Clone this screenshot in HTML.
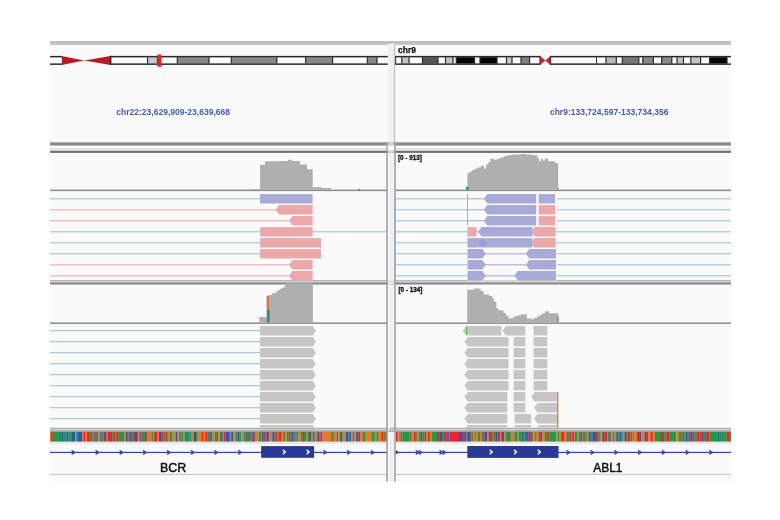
<!DOCTYPE html>
<html><head><meta charset="utf-8"><style>
html,body{margin:0;padding:0;background:#fff;width:780px;height:520px;overflow:hidden}
svg{display:block;will-change:transform}
</style></head><body>
<svg width="780" height="520" viewBox="0 0 780 520" shape-rendering="geometricPrecision">
<rect x="0.00" y="0.00" width="780.00" height="520.00" fill="#ffffff" />
<rect x="50.00" y="41.00" width="681.00" height="441.00" fill="#fafafa" />
<rect x="388.00" y="45.00" width="6.00" height="437.00" fill="#f0f1f0" />
<rect x="50.00" y="41.00" width="681.00" height="2.80" fill="#c0c0c0" />
<rect x="50.00" y="43.70" width="338.00" height="0.90" fill="#a9a9a9" />
<rect x="395.00" y="43.70" width="336.00" height="0.90" fill="#a9a9a9" />
<rect x="50.00" y="57.20" width="12.00" height="6.40" fill="#ffffff" />
<rect x="110.40" y="57.20" width="277.40" height="6.40" fill="#ffffff" />
<rect x="147.50" y="57.20" width="10.00" height="6.40" fill="#c8c8c8" />
<rect x="146.90" y="57.20" width="1.20" height="6.40" fill="#2a2a2a" />
<rect x="156.90" y="57.20" width="1.20" height="6.40" fill="#2a2a2a" />
<rect x="177.30" y="57.20" width="31.70" height="6.40" fill="#888888" />
<rect x="176.70" y="57.20" width="1.20" height="6.40" fill="#2a2a2a" />
<rect x="208.40" y="57.20" width="1.20" height="6.40" fill="#2a2a2a" />
<rect x="231.30" y="57.20" width="45.50" height="6.40" fill="#888888" />
<rect x="230.70" y="57.20" width="1.20" height="6.40" fill="#2a2a2a" />
<rect x="276.20" y="57.20" width="1.20" height="6.40" fill="#2a2a2a" />
<rect x="305.70" y="57.20" width="26.90" height="6.40" fill="#888888" />
<rect x="305.10" y="57.20" width="1.20" height="6.40" fill="#2a2a2a" />
<rect x="332.00" y="57.20" width="1.20" height="6.40" fill="#2a2a2a" />
<rect x="367.30" y="57.20" width="9.70" height="6.40" fill="#888888" />
<rect x="366.70" y="57.20" width="1.20" height="6.40" fill="#2a2a2a" />
<rect x="376.40" y="57.20" width="1.20" height="6.40" fill="#2a2a2a" />
<rect x="50.00" y="55.90" width="12.00" height="1.50" fill="#2a2a2a" />
<rect x="50.00" y="63.40" width="12.00" height="1.50" fill="#2a2a2a" />
<rect x="110.40" y="55.90" width="277.40" height="1.50" fill="#2a2a2a" />
<rect x="110.40" y="63.40" width="277.40" height="1.50" fill="#2a2a2a" />
<rect x="110.00" y="55.90" width="1.30" height="9.00" fill="#2a2a2a" />
<polygon points="61.8,55.900000000000006 84,60.4 110.6,55.900000000000006 110.6,64.9 84,60.4 61.8,64.9" fill="#b81c22"/>
<rect x="109.80" y="55.90" width="1.30" height="9.00" fill="#2a2a2a" />
<rect x="157.40" y="54.50" width="3.80" height="12.20" fill="#ee1c24" />
<rect x="395.30" y="57.20" width="145.00" height="6.40" fill="#ffffff" />
<rect x="550.20" y="57.20" width="180.80" height="6.40" fill="#ffffff" />
<rect x="401.80" y="57.20" width="7.20" height="6.40" fill="#c4c4c4" />
<rect x="401.20" y="57.20" width="1.20" height="6.40" fill="#2a2a2a" />
<rect x="408.40" y="57.20" width="1.20" height="6.40" fill="#2a2a2a" />
<rect x="422.50" y="57.20" width="15.50" height="6.40" fill="#555555" />
<rect x="421.90" y="57.20" width="1.20" height="6.40" fill="#2a2a2a" />
<rect x="437.40" y="57.20" width="1.20" height="6.40" fill="#2a2a2a" />
<rect x="445.50" y="57.20" width="7.50" height="6.40" fill="#c4c4c4" />
<rect x="444.90" y="57.20" width="1.20" height="6.40" fill="#2a2a2a" />
<rect x="452.40" y="57.20" width="1.20" height="6.40" fill="#2a2a2a" />
<rect x="456.30" y="57.20" width="18.20" height="6.40" fill="#000000" />
<rect x="455.70" y="57.20" width="1.20" height="6.40" fill="#2a2a2a" />
<rect x="473.90" y="57.20" width="1.20" height="6.40" fill="#2a2a2a" />
<rect x="480.00" y="57.20" width="17.00" height="6.40" fill="#000000" />
<rect x="479.40" y="57.20" width="1.20" height="6.40" fill="#2a2a2a" />
<rect x="496.40" y="57.20" width="1.20" height="6.40" fill="#2a2a2a" />
<rect x="506.50" y="57.20" width="5.50" height="6.40" fill="#c8c8c8" />
<rect x="505.90" y="57.20" width="1.20" height="6.40" fill="#2a2a2a" />
<rect x="511.40" y="57.20" width="1.20" height="6.40" fill="#2a2a2a" />
<rect x="521.00" y="57.20" width="8.60" height="6.40" fill="#808080" />
<rect x="520.40" y="57.20" width="1.20" height="6.40" fill="#2a2a2a" />
<rect x="529.00" y="57.20" width="1.20" height="6.40" fill="#2a2a2a" />
<rect x="606.00" y="57.20" width="10.30" height="6.40" fill="#b8b8b8" />
<rect x="605.40" y="57.20" width="1.20" height="6.40" fill="#2a2a2a" />
<rect x="615.70" y="57.20" width="1.20" height="6.40" fill="#2a2a2a" />
<rect x="622.30" y="57.20" width="16.50" height="6.40" fill="#777777" />
<rect x="621.70" y="57.20" width="1.20" height="6.40" fill="#2a2a2a" />
<rect x="638.20" y="57.20" width="1.20" height="6.40" fill="#2a2a2a" />
<rect x="642.80" y="57.20" width="10.60" height="6.40" fill="#888888" />
<rect x="642.20" y="57.20" width="1.20" height="6.40" fill="#2a2a2a" />
<rect x="652.80" y="57.20" width="1.20" height="6.40" fill="#2a2a2a" />
<rect x="661.60" y="57.20" width="10.20" height="6.40" fill="#888888" />
<rect x="661.00" y="57.20" width="1.20" height="6.40" fill="#2a2a2a" />
<rect x="671.20" y="57.20" width="1.20" height="6.40" fill="#2a2a2a" />
<rect x="677.00" y="57.20" width="6.50" height="6.40" fill="#c0c0c0" />
<rect x="676.40" y="57.20" width="1.20" height="6.40" fill="#2a2a2a" />
<rect x="682.90" y="57.20" width="1.20" height="6.40" fill="#2a2a2a" />
<rect x="690.80" y="57.20" width="9.80" height="6.40" fill="#c4c4c4" />
<rect x="690.20" y="57.20" width="1.20" height="6.40" fill="#2a2a2a" />
<rect x="700.00" y="57.20" width="1.20" height="6.40" fill="#2a2a2a" />
<rect x="709.60" y="57.20" width="17.40" height="6.40" fill="#000000" />
<rect x="709.00" y="57.20" width="1.20" height="6.40" fill="#2a2a2a" />
<rect x="726.40" y="57.20" width="1.20" height="6.40" fill="#2a2a2a" />
<rect x="395.30" y="55.90" width="145.00" height="1.50" fill="#2a2a2a" />
<rect x="395.30" y="63.40" width="145.00" height="1.50" fill="#2a2a2a" />
<rect x="394.90" y="55.90" width="1.30" height="9.00" fill="#2a2a2a" />
<rect x="539.40" y="55.90" width="1.30" height="9.00" fill="#2a2a2a" />
<rect x="550.20" y="55.90" width="180.80" height="1.50" fill="#2a2a2a" />
<rect x="550.20" y="63.40" width="180.80" height="1.50" fill="#2a2a2a" />
<rect x="549.80" y="55.90" width="1.30" height="9.00" fill="#2a2a2a" />
<rect x="596.00" y="57.20" width="1.00" height="6.40" fill="#2a2a2a" />
<polygon points="540,55.900000000000006 545.4,60.4 550.5,55.900000000000006 550.5,64.9 545.4,60.4 540,64.9" fill="#c0282c"/>
<text x="398" y="53.4" font-family="Liberation Sans" font-weight="bold" font-size="8.6" fill="#111" stroke="#111" stroke-width="0.25" textLength="18" lengthAdjust="spacingAndGlyphs">chr9</text>
<text x="116.3" y="115" font-family="Liberation Sans" font-size="9.8" font-weight="bold" fill="#4a5aaa" textLength="113.7" lengthAdjust="spacingAndGlyphs">chr22:23,629,909-23,639,668</text>
<text x="549.9" y="114.8" font-family="Liberation Sans" font-size="9.8" font-weight="bold" fill="#4a5aaa" textLength="118.5" lengthAdjust="spacingAndGlyphs">chr9:133,724,597-133,734,356</text>
<rect x="50.00" y="142.30" width="681.00" height="3.30" fill="#8c8c8c" />
<rect x="50.00" y="148.00" width="681.00" height="1.60" fill="#dddddd" />
<rect x="50.00" y="150.70" width="681.00" height="2.20" fill="#707070" />
<rect x="50.00" y="280.20" width="681.00" height="1.20" fill="#a8a8a8" />
<rect x="50.00" y="281.40" width="681.00" height="1.10" fill="#c8c8c8" />
<rect x="50.00" y="282.50" width="681.00" height="2.00" fill="#858585" />
<rect x="50.00" y="189.60" width="337.00" height="1.50" fill="#8a8a8a" />
<rect x="395.00" y="189.60" width="336.00" height="1.50" fill="#8a8a8a" />
<rect x="50.00" y="322.40" width="337.00" height="1.50" fill="#8a8a8a" />
<rect x="395.00" y="322.40" width="336.00" height="1.50" fill="#8a8a8a" />
<polygon points="250.60,189.80 250.60,189.10 260.10,189.10 260.10,164.70 265.00,164.70 265.00,161.30 281.00,161.30 281.00,160.90 288.00,160.90 288.00,159.80 292.00,159.80 292.00,160.90 300.00,160.90 300.00,164.40 307.00,164.40 307.00,169.20 312.70,169.20 312.70,187.20 322.00,187.20 322.00,188.10 331.00,188.10 331.00,189.80" fill="#afafaf"/>
<rect x="358.30" y="188.80" width="1.60" height="1.60" fill="#1a9a4a" />
<polygon points="467.40,189.80 467.40,173.00 469.80,173.00 469.80,171.40 472.30,171.40 472.30,170.00 474.70,170.00 474.70,168.70 477.10,168.70 477.10,167.60 480.80,167.60 480.80,165.80 484.00,165.80 484.00,168.60 486.00,168.60 486.00,164.50 488.40,164.50 488.40,162.10 490.40,162.10 490.40,158.70 494.00,158.70 494.00,159.70 497.30,159.70 497.30,158.50 500.50,158.50 500.50,157.40 503.80,157.40 503.80,156.30 507.00,156.30 507.00,155.30 511.80,155.30 511.80,154.40 520.50,154.40 520.50,154.00 526.00,154.00 526.00,154.40 532.60,154.40 532.60,155.30 537.50,155.30 537.50,158.00 539.00,158.00 539.00,160.90 541.00,160.90 541.00,158.70 543.00,158.70 543.00,160.50 544.70,160.50 544.70,158.50 548.00,158.50 548.00,161.30 555.20,161.30 555.20,162.90 558.20,162.90 558.20,189.80" fill="#afafaf"/>
<rect x="466.00" y="186.80" width="2.40" height="3.00" fill="#14a050" />
<rect x="557.00" y="188.20" width="2.00" height="1.60" fill="#e08a3a" />
<text x="398" y="160.3" font-family="Liberation Sans" font-weight="bold" font-size="6.3" fill="#111" stroke="#111" stroke-width="0.3">[0 - 913]</text>
<text x="398.5" y="292.0" font-family="Liberation Sans" font-weight="bold" font-size="6.3" fill="#111" stroke="#111" stroke-width="0.3">[0 - 134]</text>
<polygon points="259.20,322.60 259.20,317.00 266.40,317.00 266.40,296.00 268.50,296.00 268.50,295.00 272.00,295.00 272.00,293.20 276.00,293.20 276.00,291.50 278.00,291.50 278.00,290.00 280.00,290.00 280.00,288.80 282.00,288.80 282.00,287.40 285.00,287.40 285.00,283.30 312.90,283.30 312.90,322.60" fill="#afafaf"/>
<rect x="267.10" y="296.00" width="1.90" height="14.00" fill="#e07a2a" />
<rect x="267.10" y="310.00" width="1.90" height="12.50" fill="#1fa050" />
<rect x="268.60" y="309.50" width="0.80" height="13.00" fill="#3a56c0" />
<polygon points="467.20,322.60 467.20,289.80 473.80,289.80 473.80,288.60 480.60,288.60 480.60,290.90 483.60,290.90 483.60,294.50 489.10,294.50 489.10,296.00 492.00,296.00 492.00,297.70 493.70,297.70 493.70,301.50 496.30,301.50 496.30,308.20 498.40,308.20 498.40,310.30 503.50,310.30 503.50,312.90 506.00,312.90 506.00,315.80 508.50,315.80 508.50,318.30 513.40,318.30 513.40,316.50 516.80,316.50 516.80,315.40 521.00,315.40 521.00,314.30 526.90,314.30 526.90,318.50 532.00,318.50 532.00,319.60 533.70,319.60 533.70,318.00 537.10,318.00 537.10,316.30 539.60,316.30 539.60,315.00 542.10,315.00 542.10,313.30 545.10,313.30 545.10,311.20 548.90,311.20 548.90,313.30 558.40,313.30 558.40,322.60" fill="#afafaf"/>
<rect x="557.00" y="316.30" width="1.60" height="6.30" fill="#e07a2a" />
<rect x="396.00" y="198.27" width="335.00" height="1.05" fill="#9cc0d4" />
<rect x="396.00" y="209.27" width="335.00" height="1.05" fill="#9cc0d4" />
<rect x="396.00" y="220.27" width="335.00" height="1.05" fill="#9cc0d4" />
<rect x="396.00" y="231.27" width="335.00" height="1.05" fill="#9cc0d4" />
<rect x="396.00" y="242.27" width="335.00" height="1.05" fill="#9cc0d4" />
<rect x="396.00" y="253.27" width="335.00" height="1.05" fill="#9cc0d4" />
<rect x="396.00" y="264.28" width="335.00" height="1.05" fill="#9cc0d4" />
<rect x="396.00" y="275.28" width="335.00" height="1.05" fill="#9cc0d4" />
<rect x="50.00" y="198.27" width="212.00" height="1.05" fill="#9cc0d4" />
<rect x="50.00" y="209.27" width="227.00" height="1.05" fill="#eeaaaa" />
<rect x="50.00" y="220.27" width="240.00" height="1.05" fill="#eeaaaa" />
<rect x="50.00" y="231.27" width="212.00" height="1.05" fill="#9cc0d4" />
<rect x="50.00" y="242.27" width="212.00" height="1.05" fill="#9cc0d4" />
<rect x="50.00" y="253.27" width="212.00" height="1.05" fill="#9cc0d4" />
<rect x="50.00" y="264.28" width="240.00" height="1.05" fill="#eeaaaa" />
<rect x="50.00" y="275.28" width="240.00" height="1.05" fill="#eeaaaa" />
<rect x="312.00" y="231.27" width="75.00" height="1.05" fill="#9cc0d4" />
<rect x="260.10" y="194.10" width="52.50" height="9.40" fill="#aaaad8" />
<polygon points="275.60,209.80 279.10,205.10 312.60,205.10 312.60,214.50 279.10,214.50" fill="#eca8a8"/>
<polygon points="289.00,220.80 292.50,216.10 312.60,216.10 312.60,225.50 292.50,225.50" fill="#eca8a8"/>
<rect x="260.10" y="227.10" width="52.50" height="9.40" fill="#eca8a8" />
<rect x="260.10" y="238.10" width="60.90" height="9.40" fill="#eca8a8" />
<rect x="260.10" y="249.10" width="60.90" height="9.40" fill="#eca8a8" />
<polygon points="289.00,264.80 292.50,260.10 312.60,260.10 312.60,269.50 292.50,269.50" fill="#eca8a8"/>
<polygon points="289.00,275.80 292.50,271.10 312.60,271.10 312.60,280.50 292.50,280.50" fill="#eca8a8"/>
<rect x="467.00" y="194.10" width="90.00" height="9.40" fill="#fafafa" />
<rect x="467.00" y="198.27" width="19.00" height="1.05" fill="#a8a8d8" />
<rect x="467.00" y="205.10" width="90.00" height="9.40" fill="#fafafa" />
<rect x="467.00" y="209.27" width="19.00" height="1.05" fill="#a8a8d8" />
<rect x="467.00" y="216.10" width="90.00" height="9.40" fill="#fafafa" />
<rect x="467.00" y="220.27" width="19.00" height="1.05" fill="#a8a8d8" />
<rect x="467.00" y="194.10" width="1.00" height="31.40" fill="#a8a8d8" />
<polygon points="483.80,198.80 487.30,194.10 536.20,194.10 536.20,203.50 487.30,203.50" fill="#aaaad8"/>
<rect x="538.70" y="194.10" width="16.30" height="9.40" fill="#aaaad8" />
<polygon points="483.80,209.80 487.30,205.10 536.20,205.10 536.20,214.50 487.30,214.50" fill="#aaaad8"/>
<rect x="538.70" y="205.10" width="16.30" height="9.40" fill="#eca8a8" />
<polygon points="483.80,220.80 487.30,216.10 536.20,216.10 536.20,225.50 487.30,225.50" fill="#aaaad8"/>
<rect x="538.70" y="216.10" width="16.30" height="9.40" fill="#eca8a8" />
<rect x="467.50" y="227.10" width="9.00" height="9.40" fill="#eca8a8" />
<polygon points="478.00,231.80 481.50,227.10 532.50,227.10 532.50,236.50 481.50,236.50" fill="#aaaad8"/>
<polygon points="531.00,231.80 534.50,227.10 555.50,227.10 555.50,236.50 534.50,236.50" fill="#eca8a8"/>
<rect x="467.50" y="238.10" width="65.00" height="9.40" fill="#aaaad8" />
<polygon points="478,242.80 482.5,238.10 487,242.80 482.5,247.50" fill="#9c9cd0"/>
<polygon points="531.00,242.80 534.50,238.10 555.50,238.10 555.50,247.50 534.50,247.50" fill="#eca8a8"/>
<rect x="467.00" y="249.10" width="90.00" height="9.40" fill="#fafafa" />
<polygon points="467.50,249.10 482.30,249.10 485.80,253.80 482.30,258.50 467.50,258.50" fill="#aaaad8"/>
<rect x="485.00" y="253.27" width="42.80" height="1.05" fill="#a8a8d8" />
<polygon points="525.80,253.80 529.30,249.10 556.00,249.10 556.00,258.50 529.30,258.50" fill="#aaaad8"/>
<rect x="467.00" y="260.10" width="90.00" height="9.40" fill="#fafafa" />
<polygon points="467.50,260.10 482.30,260.10 485.80,264.80 482.30,269.50 467.50,269.50" fill="#aaaad8"/>
<rect x="485.00" y="264.28" width="42.80" height="1.05" fill="#a8a8d8" />
<polygon points="525.80,264.80 529.30,260.10 556.00,260.10 556.00,269.50 529.30,269.50" fill="#aaaad8"/>
<rect x="467.00" y="271.10" width="90.00" height="9.40" fill="#fafafa" />
<polygon points="467.50,271.10 482.30,271.10 485.80,275.80 482.30,280.50 467.50,280.50" fill="#aaaad8"/>
<rect x="485.00" y="275.28" width="31.20" height="1.05" fill="#a8a8d8" />
<polygon points="514.20,275.80 517.70,271.10 556.00,271.10 556.00,280.50 517.70,280.50" fill="#aaaad8"/>
<rect x="50.00" y="330.18" width="212.00" height="1.05" fill="#9cc0d4" />
<rect x="50.00" y="341.18" width="212.00" height="1.05" fill="#9cc0d4" />
<rect x="50.00" y="352.18" width="212.00" height="1.05" fill="#9cc0d4" />
<rect x="50.00" y="363.18" width="212.00" height="1.05" fill="#9cc0d4" />
<rect x="50.00" y="374.18" width="212.00" height="1.05" fill="#9cc0d4" />
<rect x="50.00" y="385.18" width="212.00" height="1.05" fill="#9cc0d4" />
<rect x="50.00" y="396.18" width="212.00" height="1.05" fill="#9cc0d4" />
<rect x="50.00" y="407.18" width="212.00" height="1.05" fill="#9cc0d4" />
<rect x="50.00" y="418.18" width="212.00" height="1.05" fill="#9cc0d4" />
<polygon points="259.90,326.00 312.80,326.00 315.80,330.70 312.80,335.40 259.90,335.40" fill="#c6c6c5"/>
<polygon points="259.90,337.00 312.80,337.00 315.80,341.70 312.80,346.40 259.90,346.40" fill="#c6c6c5"/>
<polygon points="259.90,348.00 312.80,348.00 315.80,352.70 312.80,357.40 259.90,357.40" fill="#c6c6c5"/>
<polygon points="259.90,359.00 312.80,359.00 315.80,363.70 312.80,368.40 259.90,368.40" fill="#c6c6c5"/>
<polygon points="259.90,370.00 312.80,370.00 315.80,374.70 312.80,379.40 259.90,379.40" fill="#c6c6c5"/>
<polygon points="259.90,381.00 312.80,381.00 315.80,385.70 312.80,390.40 259.90,390.40" fill="#c6c6c5"/>
<polygon points="259.90,392.00 312.80,392.00 315.80,396.70 312.80,401.40 259.90,401.40" fill="#c6c6c5"/>
<polygon points="259.90,403.00 312.80,403.00 315.80,407.70 312.80,412.40 259.90,412.40" fill="#c6c6c5"/>
<polygon points="259.90,414.00 312.80,414.00 315.80,418.70 312.80,423.40 259.90,423.40" fill="#c6c6c5"/>
<polygon points="259.90,425.00 312.80,425.00 315.80,429.70 312.80,434.40 259.90,434.40" fill="#c6c6c5"/>
<polygon points="462.70,330.70 466.20,326.00 501.40,326.00 501.40,335.40 466.20,335.40" fill="#c6c6c5"/>
<rect x="466.20" y="326.50" width="1.00" height="8.40" fill="#4cb84c" />
<polygon points="502.50,330.70 506.00,326.00 525.30,326.00 525.30,335.40 506.00,335.40" fill="#c6c6c5"/>
<rect x="533.50" y="326.00" width="13.90" height="9.40" fill="#c6c6c5" />
<polygon points="464.30,341.70 467.80,337.00 508.50,337.00 508.50,346.40 467.80,346.40" fill="#c6c6c5"/>
<rect x="513.60" y="337.00" width="11.70" height="9.40" fill="#c6c6c5" />
<rect x="533.50" y="337.00" width="13.90" height="9.40" fill="#c6c6c5" />
<polygon points="464.30,352.70 467.80,348.00 508.50,348.00 508.50,357.40 467.80,357.40" fill="#c6c6c5"/>
<rect x="513.60" y="348.00" width="11.70" height="9.40" fill="#c6c6c5" />
<rect x="533.50" y="348.00" width="13.90" height="9.40" fill="#c6c6c5" />
<polygon points="464.30,363.70 467.80,359.00 508.50,359.00 508.50,368.40 467.80,368.40" fill="#c6c6c5"/>
<rect x="513.60" y="359.00" width="11.70" height="9.40" fill="#c6c6c5" />
<rect x="533.50" y="359.00" width="13.90" height="9.40" fill="#c6c6c5" />
<polygon points="464.30,374.70 467.80,370.00 508.50,370.00 508.50,379.40 467.80,379.40" fill="#c6c6c5"/>
<rect x="513.60" y="370.00" width="11.70" height="9.40" fill="#c6c6c5" />
<rect x="533.50" y="370.00" width="13.90" height="9.40" fill="#c6c6c5" />
<polygon points="464.30,385.70 467.80,381.00 508.50,381.00 508.50,390.40 467.80,390.40" fill="#c6c6c5"/>
<rect x="513.60" y="381.00" width="11.70" height="9.40" fill="#c6c6c5" />
<rect x="533.50" y="381.00" width="13.90" height="9.40" fill="#c6c6c5" />
<polygon points="464.30,396.70 467.80,392.00 507.40,392.00 507.40,401.40 467.80,401.40" fill="#c6c6c5"/>
<rect x="513.60" y="392.00" width="11.70" height="9.40" fill="#c6c6c5" />
<polygon points="531.20,396.70 534.70,392.00 557.80,392.00 557.80,401.40 534.70,401.40" fill="#c6c6c5"/>
<rect x="557.00" y="392.00" width="1.40" height="10.80" fill="#e08040" />
<polygon points="464.30,407.70 467.80,403.00 507.40,403.00 507.40,412.40 467.80,412.40" fill="#c6c6c5"/>
<rect x="513.60" y="403.00" width="11.70" height="9.40" fill="#c6c6c5" />
<polygon points="534.00,407.70 537.50,403.00 557.80,403.00 557.80,412.40 537.50,412.40" fill="#c6c6c5"/>
<rect x="557.00" y="403.00" width="1.40" height="10.80" fill="#e08040" />
<polygon points="464.30,418.70 467.80,414.00 507.40,414.00 507.40,423.40 467.80,423.40" fill="#c6c6c5"/>
<rect x="514.70" y="414.00" width="16.50" height="9.40" fill="#c6c6c5" />
<polygon points="534.00,418.70 537.50,414.00 557.80,414.00 557.80,423.40 537.50,423.40" fill="#c6c6c5"/>
<rect x="557.00" y="414.00" width="1.40" height="10.80" fill="#e08040" />
<polygon points="464.30,429.70 467.80,425.00 507.40,425.00 507.40,434.40 467.80,434.40" fill="#c6c6c5"/>
<rect x="514.70" y="425.00" width="16.50" height="9.40" fill="#c6c6c5" />
<polygon points="535.50,429.70 539.00,425.00 557.80,425.00 557.80,434.40 539.00,434.40" fill="#c6c6c5"/>
<rect x="557.00" y="425.00" width="1.40" height="10.80" fill="#e08040" />
<rect x="50.00" y="427.60" width="681.00" height="1.00" fill="#fafafa" />
<rect x="50.00" y="427.80" width="681.00" height="1.30" fill="#adadad" />
<rect x="50.00" y="429.10" width="681.00" height="1.20" fill="#d2d2d2" />
<rect x="50.00" y="430.30" width="681.00" height="1.60" fill="#9a9a9a" />
<rect x="50.00" y="432.00" width="1.24" height="9.60" fill="#e07c28" />
<rect x="51.09" y="432.00" width="1.78" height="9.60" fill="#ec2226" />
<rect x="52.72" y="432.00" width="6.14" height="9.60" fill="#1c9c48" />
<rect x="58.72" y="432.00" width="1.24" height="9.60" fill="#3352b6" />
<rect x="59.81" y="432.00" width="2.33" height="9.60" fill="#1c9c48" />
<rect x="61.99" y="432.00" width="1.24" height="9.60" fill="#3352b6" />
<rect x="63.08" y="432.00" width="3.42" height="9.60" fill="#1c9c48" />
<rect x="66.35" y="432.00" width="2.11" height="9.60" fill="#3352b6" />
<rect x="68.31" y="432.00" width="3.09" height="9.60" fill="#1c9c48" />
<rect x="71.25" y="432.00" width="3.96" height="9.60" fill="#3352b6" />
<rect x="75.06" y="432.00" width="1.24" height="9.60" fill="#e07c28" />
<rect x="76.15" y="432.00" width="1.24" height="9.60" fill="#1c9c48" />
<rect x="77.24" y="432.00" width="5.05" height="9.60" fill="#3352b6" />
<rect x="82.15" y="432.00" width="1.24" height="9.60" fill="#e07c28" />
<rect x="83.24" y="432.00" width="2.33" height="9.60" fill="#ec2226" />
<rect x="85.42" y="432.00" width="1.78" height="9.60" fill="#e07c28" />
<rect x="87.05" y="432.00" width="2.87" height="9.60" fill="#ec2226" />
<rect x="89.78" y="432.00" width="2.87" height="9.60" fill="#1c9c48" />
<rect x="92.50" y="432.00" width="1.24" height="9.60" fill="#ec2226" />
<rect x="93.59" y="432.00" width="1.24" height="9.60" fill="#7c4c8a" />
<rect x="94.68" y="432.00" width="2.33" height="9.60" fill="#8c6a3c" />
<rect x="96.86" y="432.00" width="1.78" height="9.60" fill="#2a8a78" />
<rect x="98.49" y="432.00" width="1.78" height="9.60" fill="#e07c28" />
<rect x="100.13" y="432.00" width="1.24" height="9.60" fill="#3352b6" />
<rect x="101.22" y="432.00" width="2.33" height="9.60" fill="#1c9c48" />
<rect x="103.40" y="432.00" width="1.78" height="9.60" fill="#ec2226" />
<rect x="105.03" y="432.00" width="1.78" height="9.60" fill="#3352b6" />
<rect x="106.67" y="432.00" width="1.24" height="9.60" fill="#e07c28" />
<rect x="107.76" y="432.00" width="4.51" height="9.60" fill="#ec2226" />
<rect x="112.12" y="432.00" width="1.78" height="9.60" fill="#1c9c48" />
<rect x="113.75" y="432.00" width="1.78" height="9.60" fill="#ec2226" />
<rect x="115.38" y="432.00" width="1.78" height="9.60" fill="#8c6a3c" />
<rect x="117.02" y="432.00" width="1.78" height="9.60" fill="#ec2226" />
<rect x="118.65" y="432.00" width="5.60" height="9.60" fill="#1c9c48" />
<rect x="124.10" y="432.00" width="1.78" height="9.60" fill="#e07c28" />
<rect x="125.74" y="432.00" width="1.24" height="9.60" fill="#3352b6" />
<rect x="126.83" y="432.00" width="1.78" height="9.60" fill="#1c9c48" />
<rect x="128.46" y="432.00" width="1.78" height="9.60" fill="#ec2226" />
<rect x="130.10" y="432.00" width="1.78" height="9.60" fill="#3352b6" />
<rect x="131.73" y="432.00" width="2.33" height="9.60" fill="#1c9c48" />
<rect x="133.91" y="432.00" width="1.24" height="9.60" fill="#ec2226" />
<rect x="135.00" y="432.00" width="2.87" height="9.60" fill="#3352b6" />
<rect x="137.72" y="432.00" width="1.78" height="9.60" fill="#e07c28" />
<rect x="139.36" y="432.00" width="2.33" height="9.60" fill="#7c4c8a" />
<rect x="141.54" y="432.00" width="3.42" height="9.60" fill="#1c9c48" />
<rect x="144.81" y="432.00" width="2.33" height="9.60" fill="#ec2226" />
<rect x="146.99" y="432.00" width="1.78" height="9.60" fill="#e07c28" />
<rect x="148.62" y="432.00" width="1.24" height="9.60" fill="#1c9c48" />
<rect x="149.71" y="432.00" width="1.78" height="9.60" fill="#e07c28" />
<rect x="151.35" y="432.00" width="1.78" height="9.60" fill="#1c9c48" />
<rect x="152.98" y="432.00" width="1.24" height="9.60" fill="#e07c28" />
<rect x="154.07" y="432.00" width="3.42" height="9.60" fill="#ec2226" />
<rect x="157.34" y="432.00" width="1.78" height="9.60" fill="#e07c28" />
<rect x="158.97" y="432.00" width="2.33" height="9.60" fill="#3352b6" />
<rect x="161.15" y="432.00" width="2.33" height="9.60" fill="#ec2226" />
<rect x="163.33" y="432.00" width="2.33" height="9.60" fill="#1c9c48" />
<rect x="165.51" y="432.00" width="2.33" height="9.60" fill="#ec2226" />
<rect x="167.69" y="432.00" width="2.33" height="9.60" fill="#e07c28" />
<rect x="169.87" y="432.00" width="2.87" height="9.60" fill="#1c9c48" />
<rect x="172.60" y="432.00" width="3.42" height="9.60" fill="#e07c28" />
<rect x="175.87" y="432.00" width="1.78" height="9.60" fill="#3352b6" />
<rect x="177.50" y="432.00" width="1.24" height="9.60" fill="#e07c28" />
<rect x="178.59" y="432.00" width="1.24" height="9.60" fill="#1c9c48" />
<rect x="179.68" y="432.00" width="1.78" height="9.60" fill="#8c6a3c" />
<rect x="181.31" y="432.00" width="1.78" height="9.60" fill="#1c9c48" />
<rect x="182.95" y="432.00" width="1.78" height="9.60" fill="#e07c28" />
<rect x="184.58" y="432.00" width="5.05" height="9.60" fill="#2a8a78" />
<rect x="189.49" y="432.00" width="2.33" height="9.60" fill="#1c9c48" />
<rect x="191.67" y="432.00" width="2.33" height="9.60" fill="#e07c28" />
<rect x="193.85" y="432.00" width="2.33" height="9.60" fill="#3352b6" />
<rect x="196.03" y="432.00" width="1.78" height="9.60" fill="#1c9c48" />
<rect x="197.66" y="432.00" width="3.96" height="9.60" fill="#e07c28" />
<rect x="201.47" y="432.00" width="2.33" height="9.60" fill="#ec2226" />
<rect x="203.65" y="432.00" width="1.78" height="9.60" fill="#e07c28" />
<rect x="205.29" y="432.00" width="2.33" height="9.60" fill="#ec2226" />
<rect x="207.47" y="432.00" width="2.87" height="9.60" fill="#1c9c48" />
<rect x="210.19" y="432.00" width="1.78" height="9.60" fill="#3352b6" />
<rect x="211.83" y="432.00" width="2.87" height="9.60" fill="#e07c28" />
<rect x="214.55" y="432.00" width="2.33" height="9.60" fill="#1c9c48" />
<rect x="216.73" y="432.00" width="1.78" height="9.60" fill="#ec2226" />
<rect x="218.37" y="432.00" width="1.78" height="9.60" fill="#e07c28" />
<rect x="220.00" y="432.00" width="1.24" height="9.60" fill="#1c9c48" />
<rect x="221.09" y="432.00" width="1.78" height="9.60" fill="#3352b6" />
<rect x="222.72" y="432.00" width="1.24" height="9.60" fill="#e07c28" />
<rect x="223.81" y="432.00" width="1.78" height="9.60" fill="#ec2226" />
<rect x="225.45" y="432.00" width="3.96" height="9.60" fill="#3352b6" />
<rect x="229.26" y="432.00" width="1.24" height="9.60" fill="#ec2226" />
<rect x="230.35" y="432.00" width="1.78" height="9.60" fill="#1c9c48" />
<rect x="231.99" y="432.00" width="1.24" height="9.60" fill="#3352b6" />
<rect x="233.08" y="432.00" width="2.33" height="9.60" fill="#e07c28" />
<rect x="235.26" y="432.00" width="2.33" height="9.60" fill="#1c9c48" />
<rect x="237.44" y="432.00" width="1.78" height="9.60" fill="#3352b6" />
<rect x="239.07" y="432.00" width="2.33" height="9.60" fill="#1c9c48" />
<rect x="241.25" y="432.00" width="2.87" height="9.60" fill="#e07c28" />
<rect x="243.97" y="432.00" width="1.78" height="9.60" fill="#1c9c48" />
<rect x="245.61" y="432.00" width="2.33" height="9.60" fill="#7c4c8a" />
<rect x="247.79" y="432.00" width="1.24" height="9.60" fill="#1c9c48" />
<rect x="248.88" y="432.00" width="1.78" height="9.60" fill="#ec2226" />
<rect x="250.51" y="432.00" width="1.78" height="9.60" fill="#1c9c48" />
<rect x="252.15" y="432.00" width="2.87" height="9.60" fill="#7c4c8a" />
<rect x="254.87" y="432.00" width="3.96" height="9.60" fill="#e07c28" />
<rect x="258.69" y="432.00" width="2.33" height="9.60" fill="#1c9c48" />
<rect x="260.87" y="432.00" width="1.24" height="9.60" fill="#e07c28" />
<rect x="261.96" y="432.00" width="1.78" height="9.60" fill="#3352b6" />
<rect x="263.59" y="432.00" width="1.78" height="9.60" fill="#ec2226" />
<rect x="265.22" y="432.00" width="1.24" height="9.60" fill="#1c9c48" />
<rect x="266.31" y="432.00" width="1.78" height="9.60" fill="#3352b6" />
<rect x="267.95" y="432.00" width="1.24" height="9.60" fill="#7c4c8a" />
<rect x="269.04" y="432.00" width="3.42" height="9.60" fill="#e07c28" />
<rect x="272.31" y="432.00" width="2.33" height="9.60" fill="#3352b6" />
<rect x="274.49" y="432.00" width="1.78" height="9.60" fill="#1c9c48" />
<rect x="276.12" y="432.00" width="1.78" height="9.60" fill="#ec2226" />
<rect x="277.76" y="432.00" width="1.24" height="9.60" fill="#e07c28" />
<rect x="278.85" y="432.00" width="2.87" height="9.60" fill="#ec2226" />
<rect x="281.57" y="432.00" width="1.78" height="9.60" fill="#e07c28" />
<rect x="283.21" y="432.00" width="2.33" height="9.60" fill="#1c9c48" />
<rect x="285.38" y="432.00" width="1.78" height="9.60" fill="#e07c28" />
<rect x="287.02" y="432.00" width="1.78" height="9.60" fill="#1c9c48" />
<rect x="288.65" y="432.00" width="1.78" height="9.60" fill="#ec2226" />
<rect x="290.29" y="432.00" width="1.78" height="9.60" fill="#1c9c48" />
<rect x="291.92" y="432.00" width="1.78" height="9.60" fill="#3352b6" />
<rect x="293.56" y="432.00" width="1.78" height="9.60" fill="#8c6a3c" />
<rect x="295.19" y="432.00" width="1.24" height="9.60" fill="#1c9c48" />
<rect x="296.28" y="432.00" width="2.33" height="9.60" fill="#2a8a78" />
<rect x="298.46" y="432.00" width="2.33" height="9.60" fill="#e07c28" />
<rect x="300.64" y="432.00" width="1.78" height="9.60" fill="#1c9c48" />
<rect x="302.28" y="432.00" width="1.78" height="9.60" fill="#ec2226" />
<rect x="303.91" y="432.00" width="1.24" height="9.60" fill="#1c9c48" />
<rect x="305.00" y="432.00" width="1.78" height="9.60" fill="#1c9c48" />
<rect x="306.63" y="432.00" width="1.24" height="9.60" fill="#e07c28" />
<rect x="307.72" y="432.00" width="1.24" height="9.60" fill="#1c9c48" />
<rect x="308.81" y="432.00" width="1.24" height="9.60" fill="#ec2226" />
<rect x="309.90" y="432.00" width="1.24" height="9.60" fill="#3352b6" />
<rect x="310.99" y="432.00" width="1.78" height="9.60" fill="#e07c28" />
<rect x="312.63" y="432.00" width="1.24" height="9.60" fill="#ec2226" />
<rect x="313.72" y="432.00" width="1.78" height="9.60" fill="#1c9c48" />
<rect x="315.35" y="432.00" width="1.24" height="9.60" fill="#e07c28" />
<rect x="316.44" y="432.00" width="1.24" height="9.60" fill="#ec2226" />
<rect x="317.53" y="432.00" width="1.78" height="9.60" fill="#3352b6" />
<rect x="319.17" y="432.00" width="1.24" height="9.60" fill="#1c9c48" />
<rect x="320.26" y="432.00" width="2.33" height="9.60" fill="#ec2226" />
<rect x="322.44" y="432.00" width="8.87" height="9.60" fill="#e07c28" />
<rect x="331.15" y="432.00" width="1.24" height="9.60" fill="#ec2226" />
<rect x="332.24" y="432.00" width="1.78" height="9.60" fill="#1c9c48" />
<rect x="333.88" y="432.00" width="2.87" height="9.60" fill="#e07c28" />
<rect x="336.60" y="432.00" width="1.78" height="9.60" fill="#7c4c8a" />
<rect x="338.24" y="432.00" width="1.78" height="9.60" fill="#e07c28" />
<rect x="339.87" y="432.00" width="1.24" height="9.60" fill="#1c9c48" />
<rect x="340.96" y="432.00" width="1.78" height="9.60" fill="#3352b6" />
<rect x="342.60" y="432.00" width="3.42" height="9.60" fill="#e07c28" />
<rect x="345.87" y="432.00" width="2.87" height="9.60" fill="#3352b6" />
<rect x="348.59" y="432.00" width="1.24" height="9.60" fill="#1c9c48" />
<rect x="349.68" y="432.00" width="1.78" height="9.60" fill="#3352b6" />
<rect x="351.31" y="432.00" width="1.78" height="9.60" fill="#e07c28" />
<rect x="352.95" y="432.00" width="1.78" height="9.60" fill="#1c9c48" />
<rect x="354.58" y="432.00" width="1.78" height="9.60" fill="#e07c28" />
<rect x="356.22" y="432.00" width="2.33" height="9.60" fill="#3352b6" />
<rect x="358.40" y="432.00" width="1.78" height="9.60" fill="#ec2226" />
<rect x="360.03" y="432.00" width="2.87" height="9.60" fill="#e07c28" />
<rect x="362.76" y="432.00" width="2.33" height="9.60" fill="#1c9c48" />
<rect x="364.94" y="432.00" width="6.69" height="9.60" fill="#e07c28" />
<rect x="371.47" y="432.00" width="3.42" height="9.60" fill="#1c9c48" />
<rect x="374.74" y="432.00" width="1.78" height="9.60" fill="#e07c28" />
<rect x="376.38" y="432.00" width="1.78" height="9.60" fill="#1c9c48" />
<rect x="378.01" y="432.00" width="3.42" height="9.60" fill="#e07c28" />
<rect x="381.28" y="432.00" width="2.33" height="9.60" fill="#ec2226" />
<rect x="383.46" y="432.00" width="3.64" height="9.60" fill="#6a8a3a" />
<rect x="395.87" y="432.00" width="1.46" height="9.60" fill="#ec2226" />
<rect x="397.18" y="432.00" width="1.24" height="9.60" fill="#1c9c48" />
<rect x="398.27" y="432.00" width="1.24" height="9.60" fill="#e07c28" />
<rect x="399.36" y="432.00" width="1.24" height="9.60" fill="#1c9c48" />
<rect x="400.45" y="432.00" width="2.33" height="9.60" fill="#8c6a3c" />
<rect x="402.63" y="432.00" width="6.69" height="9.60" fill="#1c9c48" />
<rect x="409.17" y="432.00" width="2.33" height="9.60" fill="#8c6a3c" />
<rect x="411.35" y="432.00" width="1.24" height="9.60" fill="#ec2226" />
<rect x="412.44" y="432.00" width="1.78" height="9.60" fill="#e07c28" />
<rect x="414.07" y="432.00" width="1.78" height="9.60" fill="#ec2226" />
<rect x="415.71" y="432.00" width="1.24" height="9.60" fill="#1c9c48" />
<rect x="416.79" y="432.00" width="2.33" height="9.60" fill="#e07c28" />
<rect x="418.97" y="432.00" width="1.78" height="9.60" fill="#1c9c48" />
<rect x="420.61" y="432.00" width="1.78" height="9.60" fill="#3352b6" />
<rect x="422.24" y="432.00" width="2.33" height="9.60" fill="#1c9c48" />
<rect x="424.42" y="432.00" width="1.78" height="9.60" fill="#ec2226" />
<rect x="426.06" y="432.00" width="1.78" height="9.60" fill="#e07c28" />
<rect x="427.69" y="432.00" width="1.24" height="9.60" fill="#ec2226" />
<rect x="428.78" y="432.00" width="1.24" height="9.60" fill="#1c9c48" />
<rect x="429.87" y="432.00" width="1.78" height="9.60" fill="#e07c28" />
<rect x="431.51" y="432.00" width="5.60" height="9.60" fill="#1c9c48" />
<rect x="436.96" y="432.00" width="2.87" height="9.60" fill="#ec2226" />
<rect x="439.68" y="432.00" width="2.33" height="9.60" fill="#3352b6" />
<rect x="441.86" y="432.00" width="2.33" height="9.60" fill="#1c9c48" />
<rect x="444.04" y="432.00" width="2.33" height="9.60" fill="#ec2226" />
<rect x="446.22" y="432.00" width="3.42" height="9.60" fill="#7c4c8a" />
<rect x="449.49" y="432.00" width="9.41" height="9.60" fill="#ec2226" />
<rect x="458.75" y="432.00" width="3.42" height="9.60" fill="#3352b6" />
<rect x="462.02" y="432.00" width="2.33" height="9.60" fill="#ec2226" />
<rect x="464.20" y="432.00" width="2.33" height="9.60" fill="#3352b6" />
<rect x="466.38" y="432.00" width="1.78" height="9.60" fill="#1c9c48" />
<rect x="468.01" y="432.00" width="2.33" height="9.60" fill="#3352b6" />
<rect x="470.19" y="432.00" width="1.24" height="9.60" fill="#ec2226" />
<rect x="471.28" y="432.00" width="1.78" height="9.60" fill="#1c9c48" />
<rect x="472.92" y="432.00" width="2.33" height="9.60" fill="#e07c28" />
<rect x="475.10" y="432.00" width="1.24" height="9.60" fill="#1c9c48" />
<rect x="476.19" y="432.00" width="1.78" height="9.60" fill="#e07c28" />
<rect x="477.82" y="432.00" width="2.33" height="9.60" fill="#1c9c48" />
<rect x="480.00" y="432.00" width="1.78" height="9.60" fill="#e07c28" />
<rect x="481.63" y="432.00" width="1.24" height="9.60" fill="#ec2226" />
<rect x="482.72" y="432.00" width="1.78" height="9.60" fill="#1c9c48" />
<rect x="484.36" y="432.00" width="2.87" height="9.60" fill="#3352b6" />
<rect x="487.08" y="432.00" width="1.78" height="9.60" fill="#e07c28" />
<rect x="488.72" y="432.00" width="2.33" height="9.60" fill="#ec2226" />
<rect x="490.90" y="432.00" width="1.24" height="9.60" fill="#1c9c48" />
<rect x="491.99" y="432.00" width="1.78" height="9.60" fill="#8c6a3c" />
<rect x="493.62" y="432.00" width="1.78" height="9.60" fill="#1c9c48" />
<rect x="495.26" y="432.00" width="2.33" height="9.60" fill="#3352b6" />
<rect x="497.44" y="432.00" width="2.87" height="9.60" fill="#ec2226" />
<rect x="500.16" y="432.00" width="1.24" height="9.60" fill="#e07c28" />
<rect x="501.25" y="432.00" width="2.87" height="9.60" fill="#3352b6" />
<rect x="503.97" y="432.00" width="1.78" height="9.60" fill="#e07c28" />
<rect x="505.61" y="432.00" width="3.42" height="9.60" fill="#1c9c48" />
<rect x="508.88" y="432.00" width="1.78" height="9.60" fill="#ec2226" />
<rect x="510.51" y="432.00" width="1.24" height="9.60" fill="#1c9c48" />
<rect x="511.60" y="432.00" width="2.87" height="9.60" fill="#e07c28" />
<rect x="514.33" y="432.00" width="2.87" height="9.60" fill="#1c9c48" />
<rect x="517.05" y="432.00" width="1.78" height="9.60" fill="#e07c28" />
<rect x="518.69" y="432.00" width="2.87" height="9.60" fill="#1c9c48" />
<rect x="521.41" y="432.00" width="2.33" height="9.60" fill="#3352b6" />
<rect x="523.59" y="432.00" width="1.78" height="9.60" fill="#1c9c48" />
<rect x="525.22" y="432.00" width="1.78" height="9.60" fill="#3352b6" />
<rect x="526.86" y="432.00" width="1.78" height="9.60" fill="#ec2226" />
<rect x="528.49" y="432.00" width="1.78" height="9.60" fill="#3352b6" />
<rect x="530.13" y="432.00" width="1.78" height="9.60" fill="#ec2226" />
<rect x="531.76" y="432.00" width="1.78" height="9.60" fill="#1c9c48" />
<rect x="533.40" y="432.00" width="1.78" height="9.60" fill="#e07c28" />
<rect x="535.03" y="432.00" width="1.78" height="9.60" fill="#8c6a3c" />
<rect x="536.67" y="432.00" width="2.33" height="9.60" fill="#e07c28" />
<rect x="538.85" y="432.00" width="1.78" height="9.60" fill="#ec2226" />
<rect x="540.48" y="432.00" width="1.78" height="9.60" fill="#3352b6" />
<rect x="542.12" y="432.00" width="2.87" height="9.60" fill="#e07c28" />
<rect x="544.84" y="432.00" width="3.42" height="9.60" fill="#1c9c48" />
<rect x="548.11" y="432.00" width="1.24" height="9.60" fill="#ec2226" />
<rect x="549.20" y="432.00" width="7.23" height="9.60" fill="#1c9c48" />
<rect x="556.28" y="432.00" width="1.78" height="9.60" fill="#e07c28" />
<rect x="557.92" y="432.00" width="1.78" height="9.60" fill="#1c9c48" />
<rect x="559.55" y="432.00" width="1.78" height="9.60" fill="#e07c28" />
<rect x="561.19" y="432.00" width="2.87" height="9.60" fill="#ec2226" />
<rect x="563.91" y="432.00" width="1.24" height="9.60" fill="#e07c28" />
<rect x="565.00" y="432.00" width="1.78" height="9.60" fill="#e07c28" />
<rect x="566.63" y="432.00" width="1.24" height="9.60" fill="#3352b6" />
<rect x="567.72" y="432.00" width="1.78" height="9.60" fill="#1c9c48" />
<rect x="569.36" y="432.00" width="1.78" height="9.60" fill="#ec2226" />
<rect x="570.99" y="432.00" width="1.24" height="9.60" fill="#e07c28" />
<rect x="572.08" y="432.00" width="1.24" height="9.60" fill="#ec2226" />
<rect x="573.17" y="432.00" width="1.24" height="9.60" fill="#3352b6" />
<rect x="574.26" y="432.00" width="0.69" height="9.60" fill="#e07c28" />
<rect x="574.81" y="432.00" width="2.33" height="9.60" fill="#1c9c48" />
<rect x="576.99" y="432.00" width="1.78" height="9.60" fill="#e07c28" />
<rect x="578.62" y="432.00" width="1.78" height="9.60" fill="#1c9c48" />
<rect x="580.26" y="432.00" width="1.78" height="9.60" fill="#3352b6" />
<rect x="581.89" y="432.00" width="1.24" height="9.60" fill="#e07c28" />
<rect x="582.98" y="432.00" width="2.33" height="9.60" fill="#1c9c48" />
<rect x="585.16" y="432.00" width="1.78" height="9.60" fill="#8c6a3c" />
<rect x="586.79" y="432.00" width="1.78" height="9.60" fill="#e07c28" />
<rect x="588.43" y="432.00" width="1.78" height="9.60" fill="#3352b6" />
<rect x="590.06" y="432.00" width="2.33" height="9.60" fill="#1c9c48" />
<rect x="592.24" y="432.00" width="2.87" height="9.60" fill="#3352b6" />
<rect x="594.97" y="432.00" width="2.33" height="9.60" fill="#ec2226" />
<rect x="597.15" y="432.00" width="1.24" height="9.60" fill="#3352b6" />
<rect x="598.24" y="432.00" width="1.78" height="9.60" fill="#1c9c48" />
<rect x="599.87" y="432.00" width="1.78" height="9.60" fill="#e07c28" />
<rect x="601.51" y="432.00" width="1.24" height="9.60" fill="#1c9c48" />
<rect x="602.60" y="432.00" width="1.78" height="9.60" fill="#3352b6" />
<rect x="604.23" y="432.00" width="2.87" height="9.60" fill="#ec2226" />
<rect x="606.96" y="432.00" width="1.24" height="9.60" fill="#e07c28" />
<rect x="608.04" y="432.00" width="2.33" height="9.60" fill="#1c9c48" />
<rect x="610.22" y="432.00" width="1.24" height="9.60" fill="#3352b6" />
<rect x="611.31" y="432.00" width="1.78" height="9.60" fill="#e07c28" />
<rect x="612.95" y="432.00" width="1.78" height="9.60" fill="#1c9c48" />
<rect x="614.58" y="432.00" width="1.78" height="9.60" fill="#e07c28" />
<rect x="616.22" y="432.00" width="2.33" height="9.60" fill="#3352b6" />
<rect x="618.40" y="432.00" width="1.78" height="9.60" fill="#1c9c48" />
<rect x="620.03" y="432.00" width="1.24" height="9.60" fill="#3352b6" />
<rect x="621.12" y="432.00" width="1.78" height="9.60" fill="#1c9c48" />
<rect x="622.76" y="432.00" width="1.78" height="9.60" fill="#e07c28" />
<rect x="624.39" y="432.00" width="1.78" height="9.60" fill="#3352b6" />
<rect x="626.03" y="432.00" width="1.78" height="9.60" fill="#8c6a3c" />
<rect x="627.66" y="432.00" width="2.87" height="9.60" fill="#ec2226" />
<rect x="630.38" y="432.00" width="1.78" height="9.60" fill="#1c9c48" />
<rect x="632.02" y="432.00" width="1.24" height="9.60" fill="#e07c28" />
<rect x="633.11" y="432.00" width="1.24" height="9.60" fill="#1c9c48" />
<rect x="634.20" y="432.00" width="2.87" height="9.60" fill="#e07c28" />
<rect x="636.92" y="432.00" width="2.33" height="9.60" fill="#ec2226" />
<rect x="639.10" y="432.00" width="2.33" height="9.60" fill="#3352b6" />
<rect x="641.28" y="432.00" width="3.42" height="9.60" fill="#e07c28" />
<rect x="644.55" y="432.00" width="1.78" height="9.60" fill="#3352b6" />
<rect x="646.19" y="432.00" width="2.33" height="9.60" fill="#ec2226" />
<rect x="648.37" y="432.00" width="1.78" height="9.60" fill="#e07c28" />
<rect x="650.00" y="432.00" width="1.24" height="9.60" fill="#e07c28" />
<rect x="651.09" y="432.00" width="1.24" height="9.60" fill="#3352b6" />
<rect x="652.18" y="432.00" width="1.24" height="9.60" fill="#ec2226" />
<rect x="653.27" y="432.00" width="1.78" height="9.60" fill="#e07c28" />
<rect x="654.90" y="432.00" width="6.14" height="9.60" fill="#1c9c48" />
<rect x="660.90" y="432.00" width="2.33" height="9.60" fill="#ec2226" />
<rect x="663.08" y="432.00" width="1.24" height="9.60" fill="#3352b6" />
<rect x="664.17" y="432.00" width="2.33" height="9.60" fill="#1c9c48" />
<rect x="666.35" y="432.00" width="3.42" height="9.60" fill="#ec2226" />
<rect x="669.62" y="432.00" width="6.69" height="9.60" fill="#1c9c48" />
<rect x="676.15" y="432.00" width="2.87" height="9.60" fill="#e07c28" />
<rect x="678.88" y="432.00" width="3.96" height="9.60" fill="#1c9c48" />
<rect x="682.69" y="432.00" width="1.78" height="9.60" fill="#ec2226" />
<rect x="684.33" y="432.00" width="1.24" height="9.60" fill="#1c9c48" />
<rect x="685.42" y="432.00" width="1.78" height="9.60" fill="#3352b6" />
<rect x="687.05" y="432.00" width="1.78" height="9.60" fill="#1c9c48" />
<rect x="688.69" y="432.00" width="1.78" height="9.60" fill="#ec2226" />
<rect x="690.32" y="432.00" width="2.33" height="9.60" fill="#3352b6" />
<rect x="692.50" y="432.00" width="1.78" height="9.60" fill="#ec2226" />
<rect x="694.13" y="432.00" width="1.78" height="9.60" fill="#1c9c48" />
<rect x="695.77" y="432.00" width="2.33" height="9.60" fill="#8c6a3c" />
<rect x="697.95" y="432.00" width="1.24" height="9.60" fill="#ec2226" />
<rect x="699.04" y="432.00" width="1.24" height="9.60" fill="#8c6a3c" />
<rect x="700.13" y="432.00" width="1.24" height="9.60" fill="#ec2226" />
<rect x="701.22" y="432.00" width="1.78" height="9.60" fill="#3352b6" />
<rect x="702.85" y="432.00" width="3.42" height="9.60" fill="#1c9c48" />
<rect x="706.12" y="432.00" width="3.42" height="9.60" fill="#ec2226" />
<rect x="709.39" y="432.00" width="8.32" height="9.60" fill="#1c9c48" />
<rect x="717.56" y="432.00" width="1.78" height="9.60" fill="#3352b6" />
<rect x="719.20" y="432.00" width="0.69" height="9.60" fill="#ec2226" />
<rect x="719.74" y="432.00" width="6.69" height="9.60" fill="#1c9c48" />
<rect x="726.28" y="432.00" width="2.87" height="9.60" fill="#ec2226" />
<rect x="729.01" y="432.00" width="2.11" height="9.60" fill="#1c9c48" />
<rect x="50.00" y="442.60" width="681.00" height="1.00" fill="#d8d8de" />
<rect x="50.00" y="451.80" width="337.00" height="1.25" fill="#3646a6" />
<path d="M71.60,450.40 L74.60,452.40 L71.60,454.40" stroke="#3646a6" stroke-width="1.35" fill="none"/>
<path d="M95.60,450.40 L98.60,452.40 L95.60,454.40" stroke="#3646a6" stroke-width="1.35" fill="none"/>
<path d="M119.60,450.40 L122.60,452.40 L119.60,454.40" stroke="#3646a6" stroke-width="1.35" fill="none"/>
<path d="M143.10,450.40 L146.10,452.40 L143.10,454.40" stroke="#3646a6" stroke-width="1.35" fill="none"/>
<path d="M167.10,450.40 L170.10,452.40 L167.10,454.40" stroke="#3646a6" stroke-width="1.35" fill="none"/>
<path d="M190.90,450.40 L193.90,452.40 L190.90,454.40" stroke="#3646a6" stroke-width="1.35" fill="none"/>
<path d="M214.40,450.40 L217.40,452.40 L214.40,454.40" stroke="#3646a6" stroke-width="1.35" fill="none"/>
<path d="M238.20,450.40 L241.20,452.40 L238.20,454.40" stroke="#3646a6" stroke-width="1.35" fill="none"/>
<path d="M323.40,450.40 L326.40,452.40 L323.40,454.40" stroke="#3646a6" stroke-width="1.35" fill="none"/>
<path d="M347.20,450.40 L350.20,452.40 L347.20,454.40" stroke="#3646a6" stroke-width="1.35" fill="none"/>
<path d="M371.00,450.40 L374.00,452.40 L371.00,454.40" stroke="#3646a6" stroke-width="1.35" fill="none"/>
<rect x="261.10" y="446.10" width="53.00" height="11.70" fill="#283996" />
<path d="M282.80,449.90 L285.30,452.10 L282.80,454.30" stroke="#f4f4fa" stroke-width="1.5" fill="none"/>
<path d="M306.60,449.90 L309.10,452.10 L306.60,454.30" stroke="#f4f4fa" stroke-width="1.5" fill="none"/>
<text x="159.9" y="471.9" font-family="Liberation Sans" font-size="12.9" fill="#111" stroke="#111" stroke-width="0.5" textLength="26.2" lengthAdjust="spacingAndGlyphs">BCR</text>
<rect x="395.00" y="451.80" width="336.00" height="1.25" fill="#3646a6" />
<circle cx="396.3" cy="452.3" r="1.8" fill="#283996"/>
<path d="M415.70,450.40 L418.70,452.40 L415.70,454.40" stroke="#3646a6" stroke-width="1.35" fill="none"/>
<path d="M418.70,450.40 L421.70,452.40 L418.70,454.40" stroke="#3646a6" stroke-width="1.35" fill="none"/>
<path d="M439.50,450.40 L442.50,452.40 L439.50,454.40" stroke="#3646a6" stroke-width="1.35" fill="none"/>
<path d="M442.50,450.40 L445.50,452.40 L442.50,454.40" stroke="#3646a6" stroke-width="1.35" fill="none"/>
<rect x="467.30" y="446.00" width="91.20" height="11.90" fill="#283996" />
<path d="M489.70,449.90 L492.20,452.10 L489.70,454.30" stroke="#f4f4fa" stroke-width="1.5" fill="none"/>
<path d="M514.00,449.90 L516.50,452.10 L514.00,454.30" stroke="#f4f4fa" stroke-width="1.5" fill="none"/>
<path d="M537.80,449.90 L540.30,452.10 L537.80,454.30" stroke="#f4f4fa" stroke-width="1.5" fill="none"/>
<path d="M566.60,450.40 L569.60,452.40 L566.60,454.40" stroke="#3646a6" stroke-width="1.35" fill="none"/>
<path d="M590.60,450.40 L593.60,452.40 L590.60,454.40" stroke="#3646a6" stroke-width="1.35" fill="none"/>
<path d="M614.40,450.40 L617.40,452.40 L614.40,454.40" stroke="#3646a6" stroke-width="1.35" fill="none"/>
<path d="M638.10,450.40 L641.10,452.40 L638.10,454.40" stroke="#3646a6" stroke-width="1.35" fill="none"/>
<path d="M661.80,450.40 L664.80,452.40 L661.80,454.40" stroke="#3646a6" stroke-width="1.35" fill="none"/>
<path d="M685.60,450.40 L688.60,452.40 L685.60,454.40" stroke="#3646a6" stroke-width="1.35" fill="none"/>
<path d="M709.20,450.40 L712.20,452.40 L709.20,454.40" stroke="#3646a6" stroke-width="1.35" fill="none"/>
<text x="593.2" y="471.9" font-family="Liberation Sans" font-size="12.9" fill="#111" stroke="#111" stroke-width="0.5" textLength="29.3" lengthAdjust="spacingAndGlyphs">ABL1</text>
<rect x="50.00" y="473.90" width="337.00" height="1.10" fill="#c6c6d6" />
<rect x="395.00" y="473.90" width="336.00" height="1.10" fill="#c6c6d6" />
<rect x="386.30" y="153.00" width="1.60" height="328.60" fill="#9a9a9a" />
<rect x="387.90" y="153.00" width="1.10" height="328.60" fill="#ffffff" />
<rect x="393.80" y="44.60" width="1.40" height="97.40" fill="#c4c4c4" />
<rect x="394.20" y="142.00" width="1.70" height="339.60" fill="#a6a6a6" />
<rect x="394.20" y="193.00" width="1.80" height="87.00" fill="#a9a9bb" />
<rect x="388.20" y="142.30" width="5.60" height="3.30" fill="#d0d0d0" />
<rect x="388.20" y="145.60" width="5.60" height="5.00" fill="#fcfcfc" />
<rect x="388.20" y="150.70" width="5.60" height="2.20" fill="#d4d4d4" />
<rect x="386.30" y="142.30" width="1.40" height="10.70" fill="#a8a8a8" />
<rect x="388.20" y="280.00" width="5.60" height="4.60" fill="#e6e6e6" />
<rect x="388.20" y="430.30" width="5.60" height="1.60" fill="#b8b8b8" />
<rect x="388.20" y="432.00" width="5.60" height="9.60" fill="#f0f1f0" />
<rect x="388.20" y="442.60" width="5.60" height="1.00" fill="#f0f1f0" />
<rect x="388.20" y="451.60" width="5.60" height="1.50" fill="#f0f1f0" />
<rect x="388.20" y="473.60" width="5.60" height="1.10" fill="#f0f1f0" />
</svg>
</body></html>
